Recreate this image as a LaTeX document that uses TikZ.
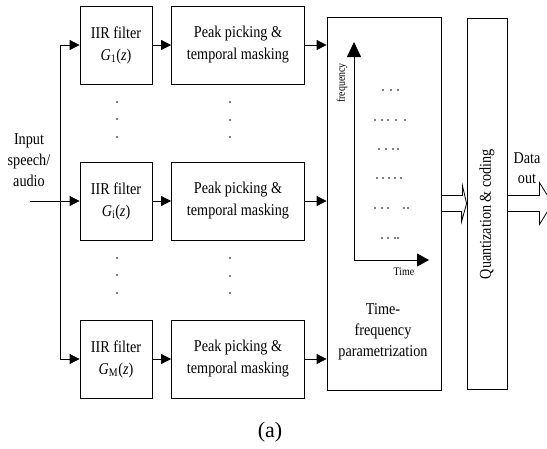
\documentclass[tikz,border=0pt]{standalone}
\usepackage{fontspec}
\setmainfont{Liberation Serif}[FakeStretch=0.86]
\newfontfamily\capfont{Liberation Serif}
\usetikzlibrary{arrows.meta,calc}

\begin{document}
\begin{tikzpicture}[x=1pt, y=-1pt,
        blocco/.style={draw, line width=0.8pt, inner sep=0pt, align=center, font=\fontsize{16.5}{22}\selectfont},
        freccia/.style={line width=0.8pt, -{Triangle[length=10pt,width=10pt]}},
        asse/.style={line width=0.8pt, -{Triangle[length=15pt,width=14pt]}},
        testo/.style={align=center, inner sep=0pt, font=\fontsize{16.5}{21}\selectfont},
        piccolo/.style={inner sep=0pt, font=\fontsize{11.5}{13}\selectfont}]
            \useasboundingbox (0,0) rectangle (547,448);

            % Blocchi
            \node[blocco, minimum width=72pt, minimum height=78pt] (g1) at (116,45) {IIR filter\\\textit{G}\textsubscript{1}(\textit{z})};
            \node[blocco, minimum width=72pt, minimum height=78pt] (gi) at (116,201) {IIR filter\\\textit{G}\textsubscript{i}(\textit{z})};
            \node[blocco, minimum width=72pt, minimum height=78pt] (gM) at (116,359) {IIR filter\\\textit{G}\textsubscript{M}(\textit{z})};
            \node[blocco, minimum width=133pt, minimum height=78pt] (p1) at (238,45) {Peak picking \&\\temporal masking};
            \node[blocco, minimum width=133pt, minimum height=78pt] (pi) at (238,201) {Peak picking \&\\temporal masking};
            \node[blocco, minimum width=133pt, minimum height=78pt] (pM) at (238,359) {Peak picking \&\\temporal masking};
            \node[blocco, minimum width=114pt, minimum height=373pt] (tf) at (384,203.5) {};
            \node[blocco, minimum width=40pt, minimum height=371pt] (q) at (487,203.5) {};

            % Testi
            \node[testo] (ingressotesto) at (29,160) {Input\\speech/\\audio};
            \node[testo] (tftesto) at (383,332) {Time-\\frequency\\parametrization};
            \node[testo, rotate=90] (qtesto) at (487,214) {Quantization \& coding};
            \node[testo, font=\fontsize{16.5}{20}\selectfont] (uscita) at (527,168) {Data\\out};
            \node[piccolo, rotate=90] (freqtesto) at (342,83) {frequency};
            \node[piccolo] (tempotesto) at (404,272) {Time};
            \node[font=\capfont\fontsize{22}{26}\selectfont] (didascalia) at (270,432) {(a)};

            % Frecce
            \coordinate (ingresso) at (30,201);
            \coordinate (nodo1) at (60,45);
            \coordinate (nodoM) at (60,359);
            \draw[line width=0.8pt] (nodo1) -- (nodoM);
            \draw[freccia] (nodo1) -- (g1.west);
            \draw[freccia] (nodoM) -- (gM.west);
            \draw[freccia] (ingresso) -- (gi.west);
            \draw[freccia] (g1) -- (p1);
            \draw[freccia] (gi) -- (pi);
            \draw[freccia] (gM) -- (pM);
            \draw[freccia] (p1.east) -- (p1.east -| tf.west);
            \draw[freccia] (pi.east) -- (pi.east -| tf.west);
            \draw[freccia] (pM.east) -- (pM.east -| tf.west);

            % Frecce vuote
            \draw[line width=0.8pt] ($(tf.east)+(0,-8)$) -- ++(21,0) -- ++(0,-10) -- (q.west)
                -- ++(-5,18) -- ++(0,-10) -- ($(tf.east)+(0,8)$);
            \draw[line width=0.8pt] ($(q.east)+(0,-8)$) -- ++(32,0) -- ++(0,-13) -- ++(13,21)
                -- ++(-13,21) -- ++(0,-13) -- ($(q.east)+(0,8)$);

            % Assi
            \coordinate (origine) at (354,260);
            \coordinate (cima) at (354,42);
            \coordinate (destra) at (429,260);
            \draw[asse] (origine) -- (cima);
            \draw[line width=0.8pt, -{Triangle[length=12pt,width=13pt]}] (origine) -- (destra);

            % Puntini
            \foreach \x/\y in {117/102, 117/119, 117/137, 230/102, 230/120, 230/137,
                               117/258, 117/275, 117/293, 230/258, 230/276, 230/293} {
                    \fill (\x,\y) circle (0.9pt);
                }
            \foreach \x/\y in {383/90, 391/90, 398/90,
                               375/120, 382/120, 388/120, 396/120, 405/120,
                               379/149, 386/149, 393/149, 398/149,
                               377/178, 383/178, 389/178, 395/178, 401/178,
                               375/208, 382/208, 388/208, 404/208, 408/208,
                               382/238, 388/238, 395/238, 398/238} {
                    \fill (\x,\y) circle (0.9pt);
                }
        \end{tikzpicture}
\end{document}
